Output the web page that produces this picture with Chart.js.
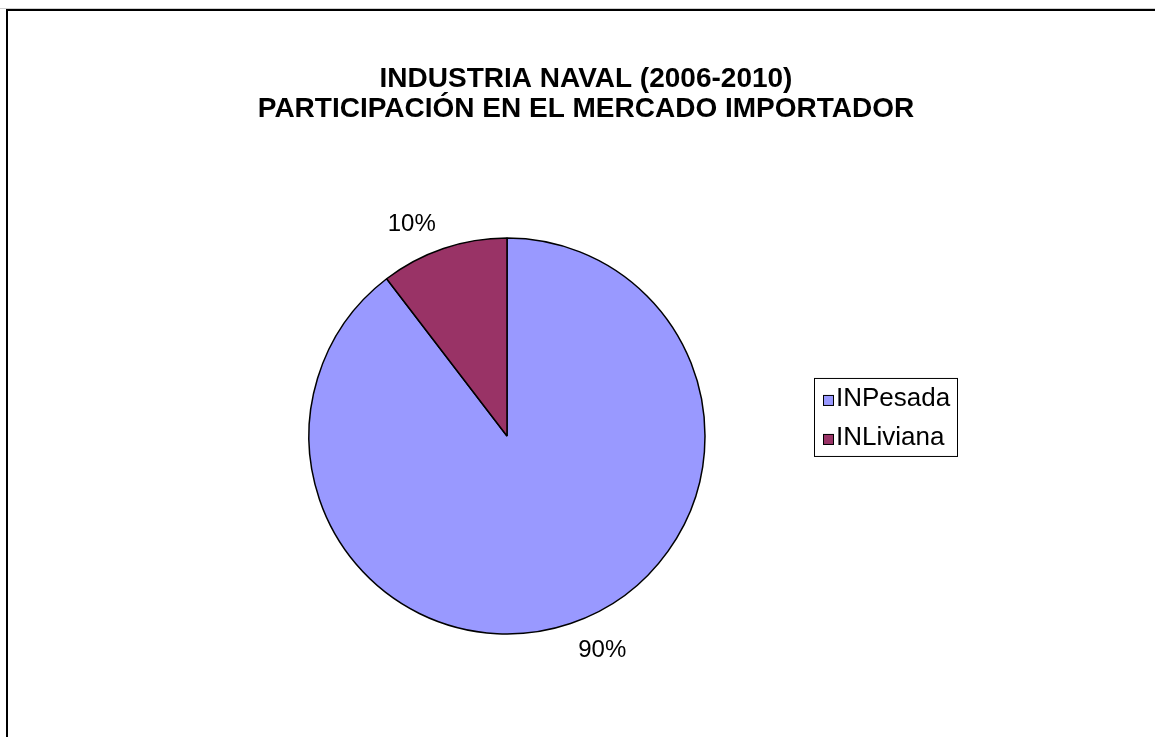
<!DOCTYPE html>
<html><head><meta charset="utf-8">
<script src="https://cdn.jsdelivr.net/npm/chart.js@4.4.0/dist/chart.umd.min.js"></script>
<style>html,body{margin:0;padding:0;background:#fff;overflow:hidden}canvas{display:block}</style>
</head><body>
<canvas id="c" width="1155" height="737"></canvas>
<script>
const titleLines = ['INDUSTRIA NAVAL (2006-2010)', 'PARTICIPACIÓN EN EL MERCADO IMPORTADOR'];
const categories = ['INPesada', 'INLiviana'];
const shares = [89.6, 10.4];
const sliceColors = ['#9999FF', '#993366'];

const FONT = '"Liberation Sans", Arial, sans-serif';

const framePlugin = {
  id: 'frame',
  beforeDraw(chart) {
    const ctx = chart.ctx;
    ctx.save();
    ctx.fillStyle = '#fff';
    ctx.fillRect(0, 0, chart.width, chart.height);
    ctx.fillStyle = '#cfcfcf';
    ctx.fillRect(0, 8, chart.width, 1);
    ctx.fillStyle = '#000';
    ctx.fillRect(6, 9, chart.width - 6, 2);
    ctx.fillRect(6, 9, 2, chart.height - 9);
    ctx.restore();
  }
};

const pctLabels = {
  id: 'pctLabels',
  afterDatasetsDraw(chart) {
    const meta = chart.getDatasetMeta(0);
    const total = shares.reduce((a, b) => a + b, 0);
    const ctx = chart.ctx;
    ctx.save();
    ctx.font = '24px ' + FONT;
    ctx.fillStyle = '#000';
    ctx.textAlign = 'center';
    ctx.textBaseline = 'alphabetic';
    meta.data.forEach((arc, i) => {
      const p = arc.getProps(['x', 'y', 'startAngle', 'endAngle', 'outerRadius'], true);
      const mid = (p.startAngle + p.endAngle) / 2 - 5.4 * Math.PI / 180;
      const d = p.outerRadius + 35;
      const cx = p.x + Math.cos(mid) * d;
      const cy = p.y + Math.sin(mid) * d;
      ctx.fillText(Math.round(shares[i] / total * 100) + '%', cx, cy + 8);
    });
    ctx.restore();
  }
};

const boxLegend = {
  id: 'boxLegend',
  beforeInit(chart) {
    const box = {
      position: 'right', weight: 0, fullSize: false,
      options: { stackWeight: 1 },
      left: 0, top: 0, right: 0, bottom: 0, width: 0, height: 0,
      isHorizontal() { return false; },
      update(maxWidth, maxHeight) { this.width = 158; this.height = maxHeight; },
      draw() {}
    };
    Chart.layouts.addBox(chart, box);
  },
  afterDraw(chart) {
    const ctx = chart.ctx;
    const ca = chart.chartArea;
    const cx = (ca.left + ca.right) / 2;
    const cy = (ca.top + ca.bottom) / 2;
    const bx = cx + 307, by = cy - 58;
    ctx.save();
    ctx.strokeStyle = '#000';
    ctx.lineWidth = 1;
    ctx.strokeRect(bx + 0.5, by + 0.5, 143, 78);
    ctx.font = '26px ' + FONT;
    ctx.textAlign = 'left';
    ctx.textBaseline = 'alphabetic';
    const ds = chart.data.datasets[0];
    chart.data.labels.forEach((name, i) => {
      const base = by + 28 + i * 39;
      ctx.fillStyle = ds.backgroundColor[i];
      ctx.fillRect(bx + 9, base - 11, 11, 11);
      ctx.strokeRect(bx + 9.5, base - 10.5, 10, 10);
      ctx.fillStyle = '#000';
      ctx.fillText(name, bx + 22, base);
    });
    ctx.restore();
  }
};

new Chart(document.getElementById('c'), {
  type: 'pie',
  data: {
    labels: categories,
    datasets: [{
      data: shares,
      backgroundColor: sliceColors,
      borderColor: '#000',
      borderWidth: 1.5,
      radius: 198
    }]
  },
  options: {
    responsive: false,
    animation: false,
    events: [],
    layout: { padding: { left: 17, right: 0, top: 0, bottom: 0 } },
    plugins: {
      legend: { display: false },
      tooltip: { enabled: false },
      title: {
        display: true,
        text: titleLines,
        color: '#000',
        font: { family: FONT, size: 28, weight: 'bold', lineHeight: 1.07 },
        padding: { top: 64, bottom: 11 }
      }
    }
  },
  plugins: [framePlugin, pctLabels, boxLegend]
});
</script>
</body></html>
